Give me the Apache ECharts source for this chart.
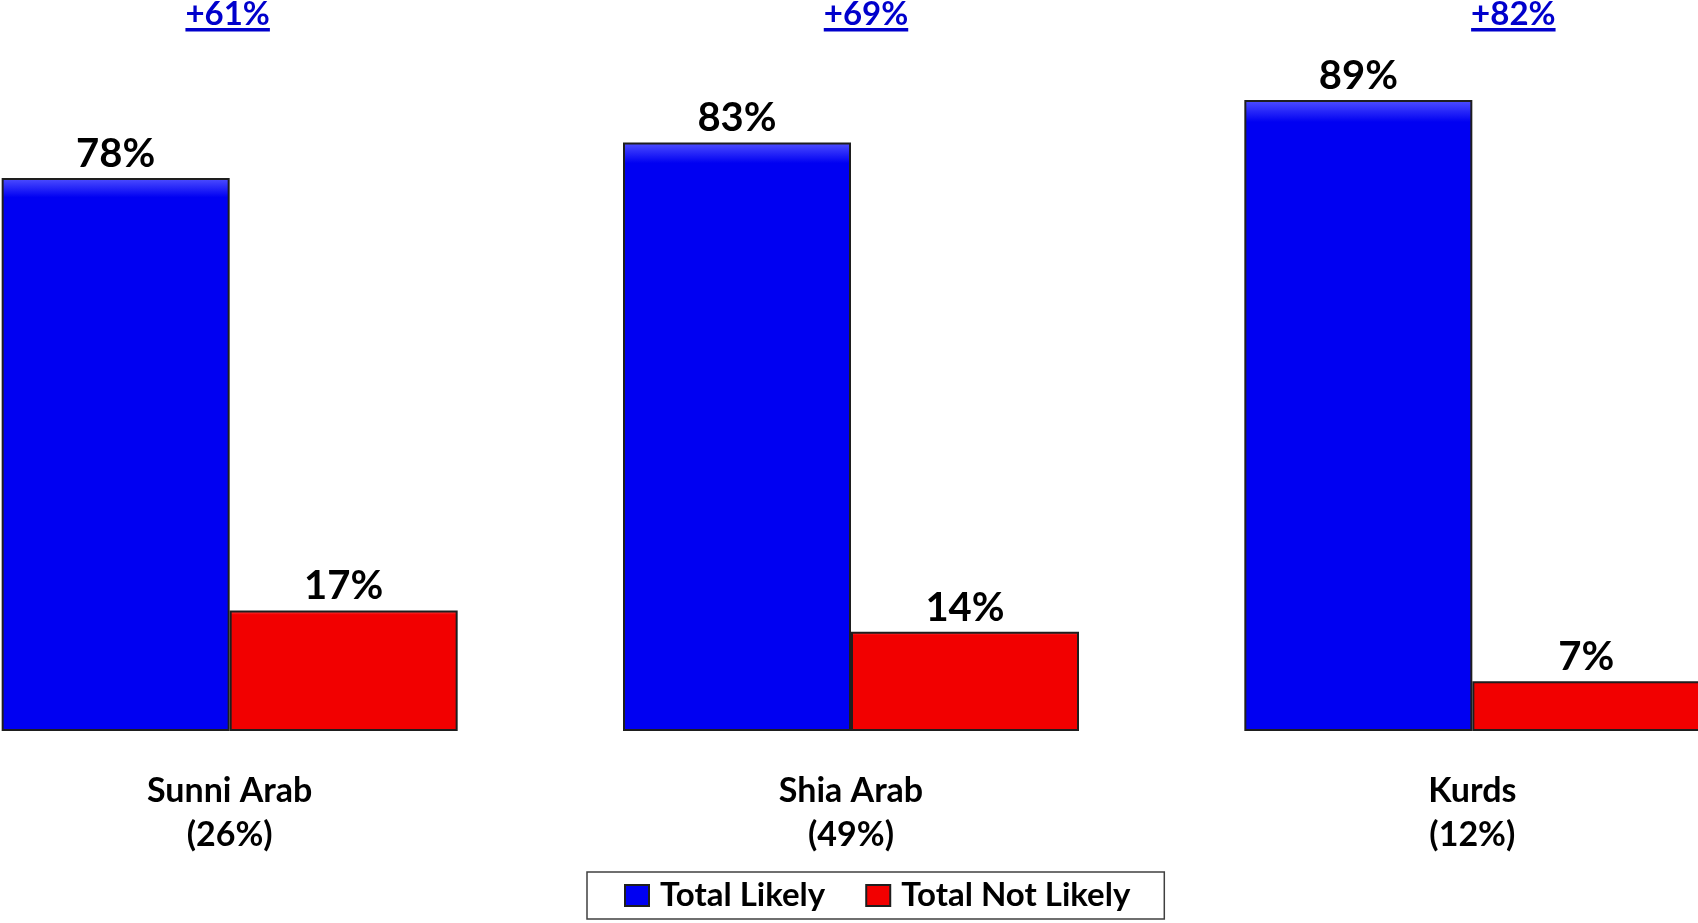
<!DOCTYPE html>
<html>
<head>
<meta charset="utf-8">
<script src="https://cdn.jsdelivr.net/npm/echarts@6/dist/echarts.min.js"></script>
<style>
html,body{margin:0;padding:0;background:#fff;}
#chart{width:1698px;height:923px;}
</style>
</head>
<body>
<div id="chart"></div>
<script>
var categories = ['Sunni Arab\n(26%)', 'Shia Arab\n(49%)', 'Kurds\n(12%)'];
var seriesNames = ['Total Likely', 'Total Not Likely'];
var likely = [78, 83, 89];
var notLikely = [17, 14, 7];
var gapLabels = ['+61%', '+69%', '+82%'];
var gapLabelNudge = [-2, 15, 41];

var FONT = 'Lato, "Open Sans", sans-serif';
var chart = echarts.init(document.getElementById('chart'), null, {renderer: 'canvas'});

function barStyle(c1, c2) {
  return {
    color: {
      type: 'linear', x: 0, y: 0, x2: 0, y2: 1,
      colorStops: [{offset: 0, color: c1}, {offset: 0.035, color: c2}, {offset: 1, color: c2}]
    },
    borderColor: '#1e1e1e',
    borderWidth: 2
  };
}

var option = {
  animation: false,
  backgroundColor: '#ffffff',
  grid: {left: -81, right: -85, top: 22, bottom: 192, containLabel: false, outerBoundsMode: 'none'},
  xAxis: {
    type: 'category',
    data: categories,
    axisLine: {show: false},
    axisTick: {show: false},
    axisLabel: {
      margin: 38,
      color: '#000',
      fontFamily: FONT,
      fontWeight: 'bold',
      fontSize: 34,
      lineHeight: 44,
      interval: 0
    }
  },
  yAxis: {
    type: 'value',
    min: 0, max: 100,
    show: false,
    splitLine: {show: false}
  },
  legend: {
    data: seriesNames,
    left: 587,
    top: 872,
    orient: 'horizontal',
    padding: [7, 34, 7, 37],
    borderColor: '#404040',
    borderWidth: 1.5,
    itemWidth: 24,
    itemHeight: 21,
    itemGap: 40,
    icon: 'rect',
    textStyle: {
      color: '#000',
      fontFamily: FONT,
      fontWeight: 'bold',
      fontSize: 33,
      padding: [0, 0, 0, 6]
    }
  },
  series: [
    {
      name: seriesNames[0],
      type: 'bar',
      data: likely,
      barWidth: 228,
      barGap: '0%',
      itemStyle: barStyle('#5050ff', '#0000f2'),
      label: {
        show: true, position: 'top', distance: 4,
        formatter: '{c}%', color: '#000',
        fontFamily: FONT, fontWeight: 'bold', fontSize: 40
      }
    },
    {
      name: seriesNames[1],
      type: 'bar',
      data: notLikely,
      barWidth: 228,
      barGap: '0%',
      itemStyle: barStyle('#ff5050', '#f20000'),
      label: {
        show: true, position: 'top', distance: 4,
        formatter: '{c}%', color: '#000',
        fontFamily: FONT, fontWeight: 'bold', fontSize: 40
      }
    }
  ]
};
chart.setOption(option);

// Difference annotations (underlined blue text) placed above each category
var ctx = document.createElement('canvas').getContext('2d');
var gFont = 'bold 33px ' + FONT;
ctx.font = gFont;
var graphics = [];
gapLabels.forEach(function (txt, i) {
  var cx = chart.convertToPixel({xAxisIndex: 0}, i) + gapLabelNudge[i];
  var w = ctx.measureText(txt).width;
  graphics.push({
    type: 'text', left: cx - w / 2, top: -2, silent: true,
    style: {text: txt, fill: '#0000cc', font: gFont}
  });
  graphics.push({
    type: 'rect', silent: true,
    shape: {x: cx - w / 2, y: 28, width: w, height: 3.5},
    style: {fill: '#0000cc'}
  });
});
chart.setOption({graphic: graphics});
</script>
</body>
</html>
